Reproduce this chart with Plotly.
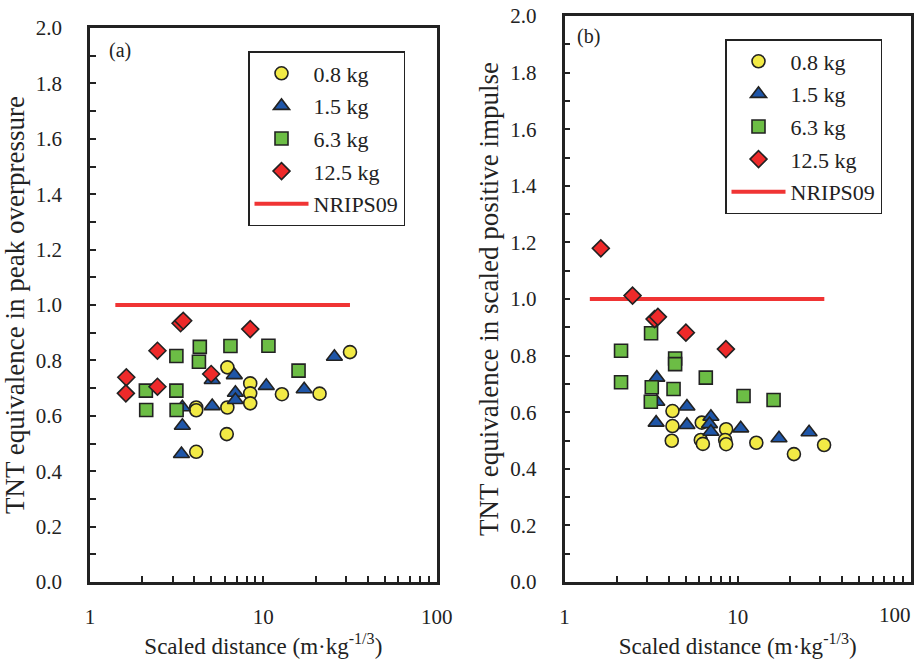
import plotly.graph_objects as go

# ---------------- data ----------------
series_names = ["0.8 kg", "1.5 kg", "6.3 kg", "12.5 kg"]
nrips_name = "NRIPS09"

# (a) peak overpressure
a_x_08 = [4.1, 4.1, 4.1, 6.2, 6.2, 6.15, 8.4, 8.4, 8.4, 12.8, 21.1, 31.6]
a_y_08 = [0.63, 0.62, 0.47, 0.775, 0.63, 0.534, 0.717, 0.681, 0.645, 0.678, 0.68, 0.83]
a_x_15 = [3.41, 3.41, 3.37, 5.07, 5.07, 6.8, 6.9, 6.9, 10.4, 17.2, 25.7]
a_y_15 = [0.631, 0.564, 0.462, 0.729, 0.635, 0.747, 0.683, 0.657, 0.708, 0.696, 0.813]
a_x_63 = [2.1, 2.11, 3.15, 3.15, 3.16, 4.3, 4.25, 6.46, 10.7, 15.96]
a_y_63 = [0.691, 0.621, 0.816, 0.691, 0.621, 0.849, 0.795, 0.852, 0.853, 0.763]
a_x_125 = [1.62, 1.61, 2.45, 2.45, 3.33, 3.45, 5.0, 8.4]
a_y_125 = [0.739, 0.681, 0.835, 0.705, 0.934, 0.943, 0.751, 0.913]

# (b) scaled positive impulse
b_x_08 = [4.2, 4.2, 4.16, 6.2, 6.12, 6.29, 8.57, 8.46, 8.57, 12.8, 21.1, 31.5]
b_y_08 = [0.604, 0.551, 0.499, 0.563, 0.502, 0.488, 0.540, 0.502, 0.487, 0.492, 0.452, 0.484]
b_x_15 = [3.41, 3.41, 3.38, 5.09, 5.09, 7.0, 6.87, 7.0, 10.4, 17.3, 25.8]
b_y_15 = [0.722, 0.637, 0.563, 0.620, 0.555, 0.584, 0.558, 0.531, 0.543, 0.508, 0.529]
b_x_63 = [2.12, 2.12, 3.16, 3.19, 3.15, 4.35, 4.35, 4.26, 6.54, 10.8, 16.1]
b_y_63 = [0.817, 0.706, 0.879, 0.688, 0.637, 0.790, 0.770, 0.682, 0.722, 0.657, 0.643]
b_x_125 = [1.62, 2.47, 3.31, 3.46, 5.02, 8.54]
b_y_125 = [1.179, 1.012, 0.929, 0.937, 0.881, 0.823]

nrips_x = [1.4, 31.6]
nrips_y = [1.0, 1.0]

x_tickvals = [1, 10, 100]
x_ticktext_a = ["1", "10", "100"]
x_ticktext_b = ["1", "10", ""]     # "100" of panel (b) is drawn as an annotation (kept inside the page)
x_last_label = "100"
x_minor_vals = [2, 3, 4, 5, 6, 7, 8, 9, 20, 30, 40, 50, 60, 70, 80, 90]

x_title = "Scaled distance (m·kg<sup>-1/3</sup>)"
a_y_title = "TNT equivalence in peak overpressure"
b_y_title = "TNT equivalence in scaled positive impulse"

# ---------------- styles ----------------
FONT = "Liberation Serif, DejaVu Serif, serif"
EDGE = "#222222"
TXT = "#222222"
colors = ["#f2ea45", "#1f56a8", "#6cbd45", "#ee2a2a"]
symbols = ["circle", "triangle-up", "square", "diamond"]
sizes = [13, 14, 13, 13]
LINE_RED = "#f03434"
TICK_SIZE = 21

fig = go.Figure()

def add_panel(xs, ys, xaxis, yaxis, legend):
    fig.add_trace(go.Scatter(
        x=nrips_x, y=nrips_y, mode="lines", name=nrips_name,
        line=dict(color=LINE_RED, width=4),
        xaxis=xaxis, yaxis=yaxis, legend=legend,
        legendgroup=legend + "n", legendrank=5, hoverinfo="skip"))
    for i in range(4):
        fig.add_trace(go.Scatter(
            x=xs[i], y=ys[i], mode="markers", name=series_names[i],
            marker=dict(color=colors[i], symbol=symbols[i], size=sizes[i],
                        line=dict(color=EDGE, width=1.6)),
            xaxis=xaxis, yaxis=yaxis, legend=legend,
            legendgroup=legend + str(i), legendrank=i + 1))

add_panel([a_x_08, a_x_15, a_x_63, a_x_125], [a_y_08, a_y_15, a_y_63, a_y_125], "x", "y", "legend")
add_panel([b_x_08, b_x_15, b_x_63, b_x_125], [b_y_08, b_y_15, b_y_63, b_y_125], "x2", "y2", "legend2")

W, H = 924, 660

def xax(domain, ticktext):
    return dict(
        type="log", range=[0, 2], domain=domain, automargin=False,
        tickvals=x_tickvals, ticktext=ticktext,
        ticks="inside", ticklen=6, tickwidth=1.5, tickcolor=EDGE,
        minor=dict(ticks="inside", ticklen=6, tickwidth=1.5, tickcolor=EDGE,
                   tickvals=x_minor_vals, showgrid=False),
        showline=True, linecolor=EDGE, linewidth=2.5, mirror=True,
        showgrid=False, zeroline=False,
        tickfont=dict(family=FONT, size=TICK_SIZE, color=TXT),
        ticklabelstandoff=14,
        title=dict(text=x_title, font=dict(family=FONT, size=23, color=TXT), standoff=10),
    )

def yax(domain, title, anchor):
    return dict(
        range=[0, 2], domain=domain, anchor=anchor, automargin=False,
        dtick=0.2, tick0=0, tickformat=".1f",
        ticks="inside", ticklen=6, tickwidth=1.5, tickcolor=EDGE,
        minor=dict(ticks="inside", ticklen=6, tickwidth=1.5, tickcolor=EDGE, dtick=0.1,
                   showgrid=False),
        showline=True, linecolor=EDGE, linewidth=2.5, mirror=True,
        showgrid=False, zeroline=False,
        tickfont=dict(family=FONT, size=TICK_SIZE, color=TXT),
        ticklabelstandoff=21,
        title=dict(text=title, font=dict(family=FONT, size=27, color=TXT), standoff=4),
    )

def leg(x, y):
    return dict(x=x, y=y, xanchor="left", yanchor="top",
                bgcolor="white", bordercolor=EDGE, borderwidth=1.5,
                font=dict(family=FONT, size=22, color=TXT),
                traceorder="grouped", tracegroupgap=1, itemwidth=54)

fig.update_layout(
    template="none",
    width=W, height=H,
    margin=dict(l=0, r=0, t=0, b=0),
    paper_bgcolor="white", plot_bgcolor="white",
    showlegend=True,
    xaxis=xax([90 / W, 436.7 / W], x_ticktext_a) | dict(anchor="y"),
    yaxis=yax([(H - 582) / H, (H - 28) / H], a_y_title, "x"),
    xaxis2=xax([564.5 / W, 911 / W], x_ticktext_b) | dict(anchor="y2"),
    yaxis2=yax([(H - 582) / H, (H - 16) / H], b_y_title, "x2"),
    legend=leg(248 / W, (H - 51) / H),
    legend2=leg(725 / W, (H - 39) / H),
    annotations=[
        dict(text="(a)", xref="x domain", yref="y domain", x=0.05, y=0.96,
             xanchor="left", yanchor="middle", showarrow=False,
             font=dict(family=FONT, size=20, color=TXT)),
        dict(text="(b)", xref="x2 domain", yref="y2 domain", x=0.03, y=0.963,
             xanchor="left", yanchor="middle", showarrow=False,
             font=dict(family=FONT, size=20, color=TXT)),
        dict(text=x_last_label, xref="x2", yref="y2 domain", x=2, y=0,
             xanchor="right", yanchor="top", xshift=2, yshift=-19,
             showarrow=False,
             font=dict(family=FONT, size=TICK_SIZE, color=TXT)),
    ],
)

fig.write_html("out.html")
